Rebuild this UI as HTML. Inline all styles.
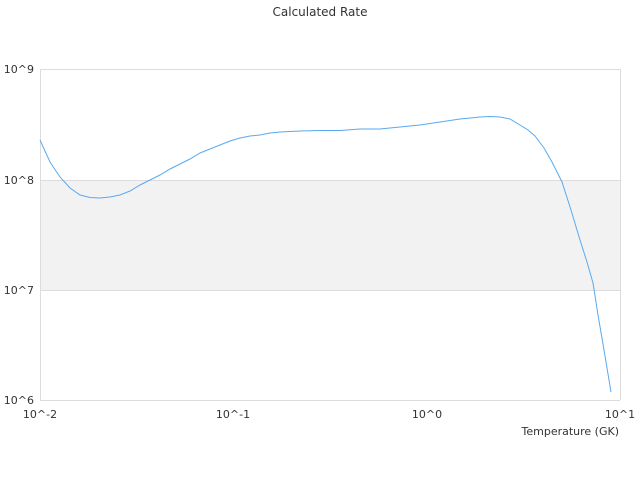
<!DOCTYPE html>
<html><head><meta charset="utf-8"><style>
html,body{margin:0;padding:0;background:#fff;}
svg{display:block;font-family:"DejaVu Sans","Liberation Sans",sans-serif;}
</style></head><body>
<svg width="640" height="480" viewBox="0 0 640 480" xmlns="http://www.w3.org/2000/svg">
<text x="320" y="16" font-size="12" text-anchor="middle" fill="#333">Calculated Rate</text>
<rect x="40" y="180" width="580" height="110" fill="#f2f2f2"/>
<g stroke="#dcdcdc" stroke-width="1" fill="none">
<line x1="40" y1="69.5" x2="620" y2="69.5"/>
<line x1="40" y1="180.5" x2="620" y2="180.5"/>
<line x1="40" y1="290.5" x2="620" y2="290.5"/>
<line x1="40.5" y1="69" x2="40.5" y2="400"/>
<line x1="620.5" y1="69" x2="620.5" y2="400"/>
<line x1="40" y1="400.5" x2="620" y2="400.5"/>
</g>
<g font-size="11" fill="#333" text-anchor="end">
<text x="34" y="73">10^9</text>
<text x="34" y="184">10^8</text>
<text x="34" y="294">10^7</text>
<text x="34" y="404">10^6</text>
</g>
<g font-size="11" fill="#333" text-anchor="middle">
<text x="40" y="418">10^-2</text>
<text x="233" y="418">10^-1</text>
<text x="427" y="418">10^0</text>
<text x="620" y="418">10^1</text>
</g>
<text x="619" y="435" font-size="11" fill="#333" text-anchor="end">Temperature (GK)</text>
<polyline fill="none" stroke="#5aa9f0" stroke-width="1" points="40,140 50,162 60,177 70,188 80,195 90,197.5 100,198 110,197 120,195 130,191 140,185 150,180 160,175 170,169 180,164 190,159 200,153 210,149 220,145 230,141 240,138 250,136 260,135 270,133 280,132 300,131 320,130.5 340,130.5 360,129 380,129 400,127 420,125 440,122 460,119 480,117 490,116.5 500,117 510,119 520,125 528,130 535,136 544,148 552,162 562,182 571,210 580,240 587,262 593,283 598,315 604,350 611,392"/>
</svg>
</body></html>
